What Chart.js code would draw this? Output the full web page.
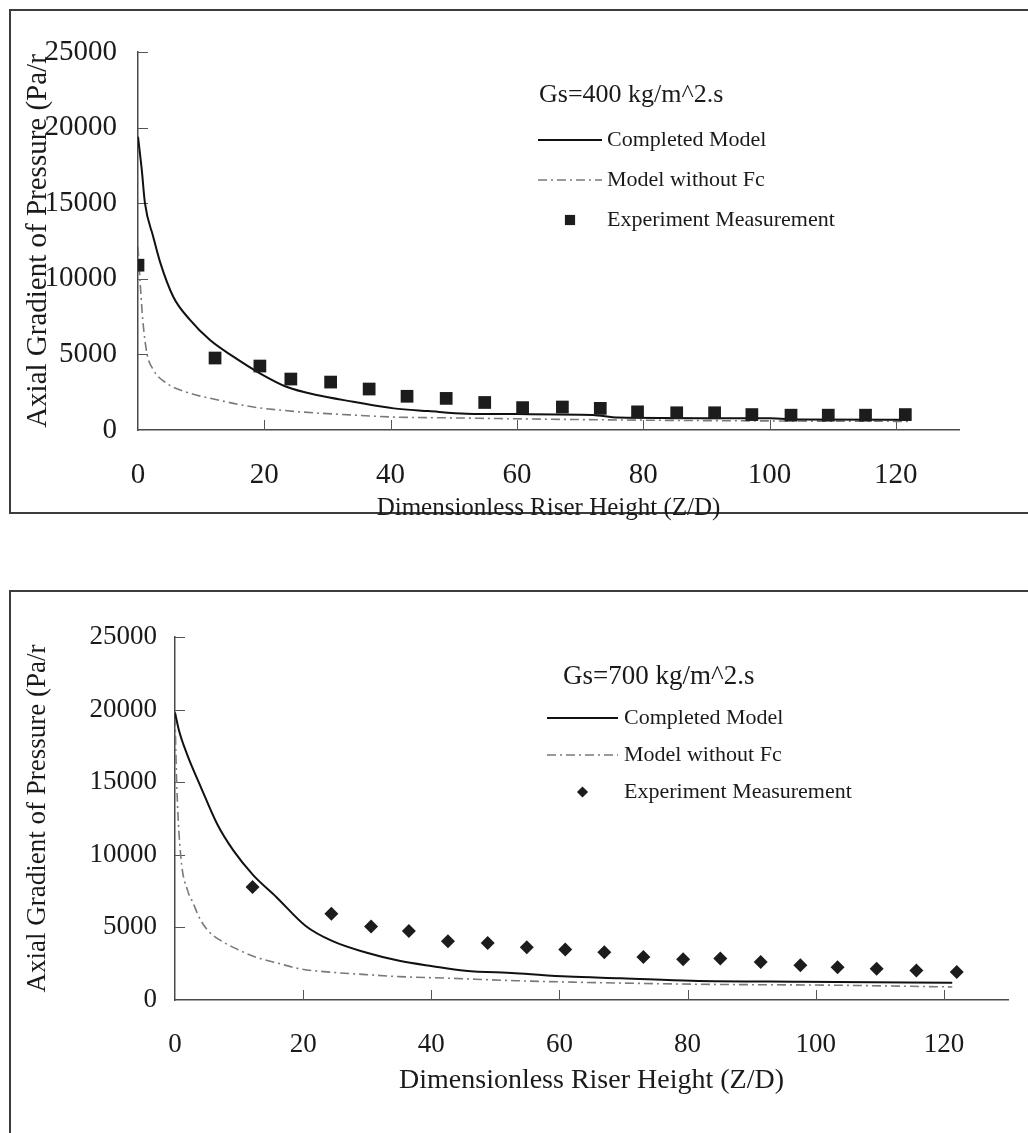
<!DOCTYPE html>
<html>
<head>
<meta charset="utf-8">
<script src="https://cdn.jsdelivr.net/npm/chart.js@4.4.1/dist/chart.umd.min.js"></script>
<style>
  html, body { margin: 0; padding: 0; background: #fff; }
  body { width: 1028px; height: 1133px; position: relative; overflow: hidden; }
  .frame { position: absolute; border: 2px solid #3c3c3c; box-sizing: border-box; }
  #frame400 { left: 9px; top: 9px; width: 1040px; height: 505px; }
  #frame700 { left: 9px; top: 590px; width: 1040px; height: 600px; }
  canvas { position: absolute; left: 0; }
  #chart400 { top: 0; }
  #chart700 { top: 560px; }
</style>
</head>
<body>
<div class="frame" id="frame400"></div>
<div class="frame" id="frame700"></div>
<canvas id="chart400" width="1028" height="540"></canvas>
<canvas id="chart700" width="1028" height="573"></canvas>
<script>
// --- Gs = 400 kg/m^2.s ---
const zd400Model = [0, 0.6, 1.1, 2.4, 3.5, 5.6, 8.2, 11.4, 15.1, 19.3, 23.5, 28.3, 34.1, 40.5, 46, 52, 60, 72, 76, 100, 105, 122];
const dp400Model = [19400, 17200, 15000, 12800, 11100, 8800, 7300, 5950, 4850, 3750, 2860, 2310, 1870, 1430, 1250, 1080, 1050, 1000, 830, 770, 700, 680];
const zd400NoFc = [0, 0.35, 0.75, 1.4, 2.4, 4.5, 7.7, 12.5, 17.8, 25.7, 33.6, 41, 50, 60, 80, 100, 122];
const dp400NoFc = [12100, 9700, 7300, 5100, 4000, 3100, 2500, 2000, 1550, 1200, 1000, 850, 800, 740, 650, 600, 570];
const zd400Exp = [0, 12.2, 19.3, 24.2, 30.5, 36.6, 42.6, 48.8, 54.9, 60.9, 67.2, 73.2, 79.1, 85.3, 91.3, 97.2, 103.4, 109.3, 115.2, 121.5];
const dp400Exp = [10900, 4760, 4230, 3370, 3170, 2710, 2230, 2090, 1820, 1480, 1520, 1430, 1200, 1140, 1140, 1020, 980, 980, 980, 1020];

// --- Gs = 700 kg/m^2.s ---
const zd700Model = [0, 0.6, 1.9, 4.0, 6.6, 9.1, 12.2, 15.8, 20.4, 24.6, 29.8, 35.0, 40.2, 45.3, 53.1, 61.3, 69.6, 80.6, 97.8, 121.3];
const dp700Model = [19800, 18600, 16900, 14700, 12100, 10300, 8600, 7100, 5100, 4050, 3270, 2700, 2330, 2020, 1850, 1610, 1500, 1330, 1260, 1190];
const zd700NoFc = [0, 0.3, 0.9, 2.0, 2.7, 4.0, 5.3, 7.1, 9.7, 12.3, 15.9, 19.5, 24.7, 29.8, 35.0, 42.7, 53.1, 80.6, 102.5, 121.3];
const dp700NoFc = [19500, 14500, 9900, 7500, 6800, 5500, 4700, 4100, 3500, 3000, 2550, 2150, 1900, 1750, 1610, 1500, 1330, 1090, 1020, 900];
const zd700Exp = [12.1, 24.4, 30.6, 36.5, 42.6, 48.8, 54.9, 60.9, 67.0, 73.1, 79.3, 85.1, 91.4, 97.6, 103.4, 109.5, 115.7, 122.0];
const dp700Exp = [7790, 5940, 5060, 4750, 4040, 3920, 3630, 3470, 3280, 2970, 2800, 2850, 2610, 2400, 2260, 2160, 2040, 1920];

const xTicks = [0, 20, 40, 60, 80, 100, 120];
const yTicks = [0, 5000, 10000, 15000, 20000, 25000];
const seriesNames = ['Completed Model', 'Model without Fc', 'Experiment Measurement'];

const pairs = (xs, ys) => xs.map((x, i) => ({x, y: ys[i]}));

Chart.defaults.font.family = "'Liberation Serif', 'Times New Roman', serif";
Chart.defaults.color = '#1a1a1a';

// small tick marks pointing into the plot, like the original
const insideTicks = {
    id: 'insideTicks',
    beforeDatasetsDraw(chart, args, opts) {
        const {ctx, chartArea, scales: {x, y}} = chart;
        ctx.save();
        ctx.strokeStyle = '#555';
        ctx.lineWidth = 1;
        ctx.beginPath();
        x.ticks.forEach(t => {
            if (t.value === 0) return;
            const px = Math.round(x.getPixelForValue(t.value)) + 0.5;
            ctx.moveTo(px, chartArea.bottom);
            ctx.lineTo(px, chartArea.bottom - opts.len);
        });
        y.ticks.forEach(t => {
            if (t.value === 0) return;
            const py = Math.round(y.getPixelForValue(t.value)) + 0.5;
            ctx.moveTo(chartArea.left, py);
            ctx.lineTo(chartArea.left + opts.len, py);
        });
        ctx.stroke();
        ctx.restore();
    }
};

// legend block with the Gs heading, drawn inside the plot
const keyBlock = {
    id: 'keyBlock',
    afterDraw(chart, args, o) {
        const ctx = chart.ctx;
        ctx.save();
        ctx.textBaseline = 'middle';
        ctx.fillStyle = '#1a1a1a';
        ctx.font = o.headSize + "px 'Liberation Serif', serif";
        ctx.fillText(o.head, o.headX, o.headY);
        ctx.font = o.size + "px 'Liberation Serif', serif";
        chart.data.datasets.forEach((ds, i) => {
            const yy = o.y0 + i * o.dy;
            if (ds.showLine) {
                ctx.strokeStyle = ds.borderColor;
                ctx.lineWidth = ds.borderWidth;
                ctx.setLineDash(ds.borderDash || []);
                ctx.beginPath();
                ctx.moveTo(o.x0, yy);
                ctx.lineTo(o.x1, yy);
                ctx.stroke();
                ctx.setLineDash([]);
            } else {
                ctx.fillStyle = ds.backgroundColor;
                Chart.helpers.drawPoint(ctx, {pointStyle: ds.pointStyle, radius: ds.pointRadius * 0.8, borderWidth: 0}, (o.x0 + o.x1) / 2, yy);
            }
            ctx.fillStyle = '#1a1a1a';
            ctx.fillText(ds.label, o.textX, yy);
        });
        ctx.restore();
    }
};

function makeChart(id, cfg) {
    const ctx = document.getElementById(id).getContext('2d');
    return new Chart(ctx, {
        type: 'scatter',
        data: {
            datasets: [{
                label: seriesNames[0],
                data: pairs(cfg.modelX, cfg.modelY),
                showLine: true,
                borderColor: '#111',
                borderWidth: 2,
                pointRadius: 0,
                cubicInterpolationMode: 'monotone',
                order: 1
            }, {
                label: seriesNames[1],
                data: pairs(cfg.noFcX, cfg.noFcY),
                showLine: true,
                borderColor: '#7a7a7a',
                borderWidth: 1.6,
                borderDash: [9, 4, 2, 4],
                pointRadius: 0,
                cubicInterpolationMode: 'monotone',
                order: 2
            }, {
                label: seriesNames[2],
                data: pairs(cfg.expX, cfg.expY),
                showLine: false,
                pointStyle: cfg.marker,
                pointRadius: cfg.markerSize,
                backgroundColor: '#1c1c1c',
                borderWidth: 0,
                clip: 0,
                order: 0
            }]
        },
        options: {
            responsive: false,
            animation: false,
            layout: {padding: cfg.padding},
            plugins: {
                legend: {display: false},
                tooltip: {enabled: false},
                insideTicks: {len: 10},
                keyBlock: cfg.key
            },
            scales: {
                x: {
                    type: 'linear',
                    min: 0,
                    max: 130,
                    afterBuildTicks: s => { s.ticks = xTicks.map(v => ({value: v})); },
                    afterFit: s => { s.height = cfg.xAxisHeight; },
                    grid: {display: false, drawTicks: false},
                    border: {display: true, color: '#4a4a4a', width: 1.5},
                    ticks: {font: {size: cfg.tickSize}, padding: cfg.xTickPad, maxRotation: 0, callback: v => String(v)},
                    title: {display: true, text: 'Dimensionless Riser Height (Z/D)', font: {size: cfg.xTitleSize}, padding: {top: 0, bottom: cfg.xTitlePad}}
                },
                y: {
                    min: 0,
                    max: 25000,
                    afterBuildTicks: s => { s.ticks = yTicks.map(v => ({value: v})); },
                    afterFit: s => { s.width = cfg.yAxisWidth; },
                    grid: {display: false, drawTicks: false},
                    border: {display: true, color: '#4a4a4a', width: 1.5},
                    ticks: {font: {size: cfg.tickSize}, padding: cfg.yTickPad, callback: v => String(v)},
                    title: {display: true, text: 'Axial Gradient of Pressure (Pa/r', font: {size: cfg.yTitleSize}, padding: {top: cfg.yTitlePad, bottom: 0}}
                }
            }
        },
        plugins: [insideTicks, keyBlock]
    });
}

makeChart('chart400', {
    modelX: zd400Model, modelY: dp400Model,
    noFcX: zd400NoFc, noFcY: dp400NoFc,
    expX: zd400Exp, expY: dp400Exp,
    marker: 'rect', markerSize: 9,
    padding: {left: 0, top: 52, right: 69, bottom: 0},
    xAxisHeight: 110, yAxisWidth: 138,
    tickSize: 29, xTickPad: 28, yTickPad: 21,
    xTitleSize: 25, xTitlePad: 17,
    yTitleSize: 29, yTitlePad: 21,
    key: {head: 'Gs=400 kg/m^2.s', headSize: 26, headX: 539, headY: 95,
          size: 22, x0: 538, x1: 602, textX: 607, y0: 140, dy: 40}
});

makeChart('chart700', {
    modelX: zd700Model, modelY: dp700Model,
    noFcX: zd700NoFc, noFcY: dp700NoFc,
    expX: zd700Exp, expY: dp700Exp,
    marker: 'rectRot', markerSize: 7,
    padding: {left: 0, top: 77, right: 20, bottom: 0},
    xAxisHeight: 133, yAxisWidth: 175,
    tickSize: 27, xTickPad: 29, yTickPad: 18,
    xTitleSize: 28, xTitlePad: 36,
    yTitleSize: 27, yTitlePad: 22,
    key: {head: 'Gs=700 kg/m^2.s', headSize: 27, headX: 563, headY: 117,
          size: 22, x0: 547, x1: 618, textX: 624, y0: 158, dy: 37}
});
</script>
</body>
</html>
